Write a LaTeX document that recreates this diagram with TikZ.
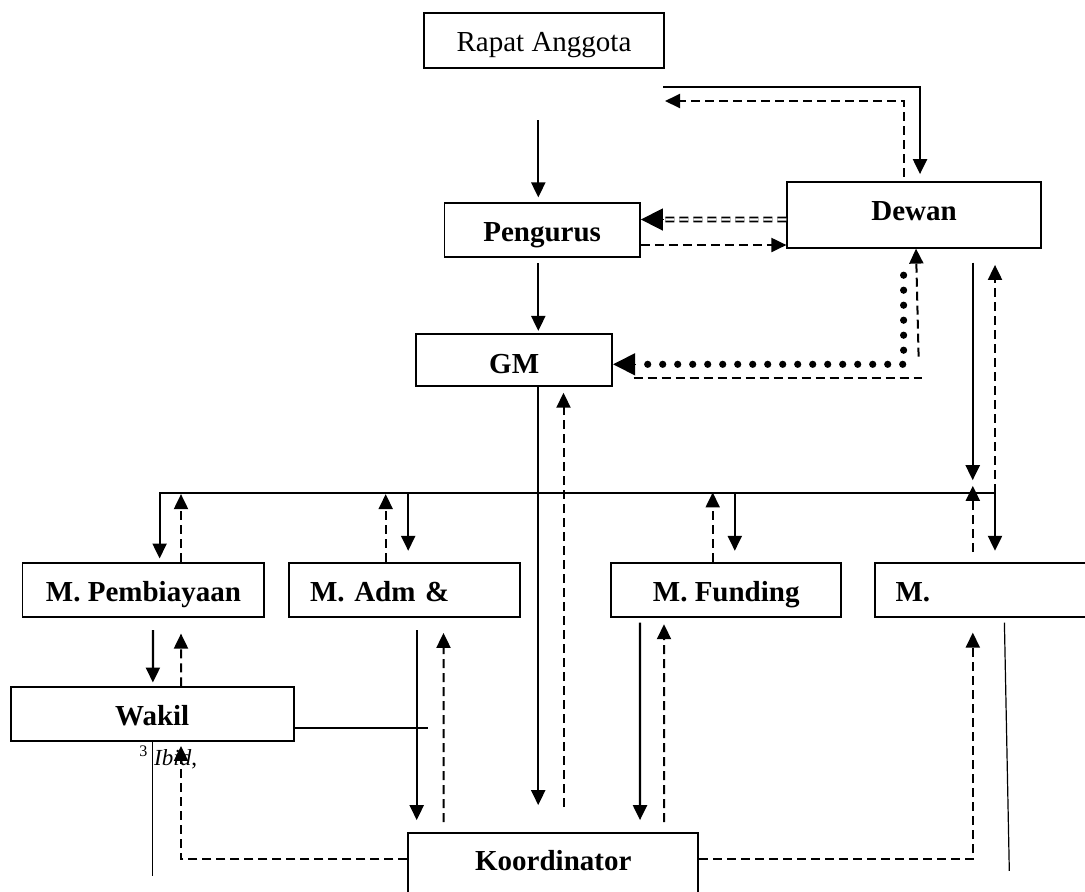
\documentclass[tikz,border=0pt]{standalone}
\usepackage{fontspec}
\setmainfont{Liberation Serif}
\usetikzlibrary{arrows.meta,calc}

\begin{document}
\begin{tikzpicture}[x=0.5pt,y=-0.5pt,
    wtip/.tip={Triangle[length=7.5pt,width=7pt]},
    btip/.tip={Triangle[length=11pt,width=11pt]},
    box/.style={draw,line width=0.9pt,inner sep=0pt,text height=12pt,text depth=1pt,
      font=\fontsize{14.5}{17}\selectfont\bfseries},
    line/.style={line width=1.1pt},
    arr/.style={line width=1.1pt,-wtip},
    dsh/.style={line width=1pt,dash pattern=on 4.5pt off 2.5pt},
    dsharr/.style={dsh,-wtip},
    dots/.style={line width=3.6pt,line cap=round,dash pattern=on 0pt off 7.5pt},
    bigarr/.style={line width=0.8pt,-btip},
    hair/.style={line width=0.6pt}]
  \path[use as bounding box,fill=white] (0,0) rectangle (1085,891);

  \node[box,font=\fontsize{14.5}{17}\selectfont,minimum width=120pt,minimum height=27.5pt] (rapat) at (544,40.5) {Rapat Anggota};
  \node[box,text depth=6.7pt,minimum width=126.7pt,minimum height=33pt] (dewan) at (914,214.7) {Dewan};
  \node[box,minimum width=97.8pt,minimum height=27pt] (pengurus) at (542.2,230.3) {Pengurus};
  \node[box,text height=13pt,text depth=0pt,minimum width=98pt,minimum height=25.9pt] (gm) at (514.2,360.2) {GM};
  \node[box,minimum width=120.9pt,minimum height=27.2pt] (mpemb) at (143.4,590) {M. Pembiayaan};
  \node[box,text width=94.3pt,inner xsep=10.7pt,align=left,minimum height=27.2pt] (madm) at (404.3,590) {M. Adm \&};
  \node[box,minimum width=115pt,minimum height=27.2pt] (mfund) at (726.2,590) {M. Funding};
  \node[box,text width=104.5pt,inner xsep=10.25pt,align=left,minimum height=27.2pt] (mlast) at (1000,590) {M.};
  \node[box,minimum width=141.5pt,minimum height=27pt] (wakil) at (152.2,714.2) {Wakil};
  \node[box,text depth=5.2pt,minimum width=145pt,minimum height=31.15pt] (koord) at (553.3,863.85) {Koordinator};
  \node[anchor=base west,inner sep=0pt,font=\fontsize{11.5}{13}\selectfont] (ibid) at (139,765) {\textsuperscript{3} \textit{Ibid},};

  \coordinate (busL) at (159.6,492.7);
  \coordinate (busR) at (995,492.7);
  \coordinate (topL) at (663,86.7);
  \coordinate (backL) at (665,101);
  \coordinate (rapOut) at (538.3,120);

  \draw[arr] (topL) -| ($(dewan.north)+(6,-6.7)$);
  \draw[dsharr] ($(dewan.north)+(-10,-4)$) |- (backL);
  \draw[arr] (rapOut) -- ($(pengurus.north)+(-3.9,-5)$);

  \draw[dsh,line width=0.8pt,double,double distance=1.2pt] ($(dewan.west)+(0,4.8)$) -- ($(pengurus.east)+(22,-10.8)$);
  \draw[bigarr] ($(pengurus.east)+(22,-10.8)$) -- ($(pengurus.east)+(0,-10.8)$);
  \coordinate (pgOut) at ($(pengurus.east)+(0,14.7)$);
  \draw[dsharr] (pgOut) -- (pgOut -| dewan.west);

  \draw[arr] ($(pengurus.south)+(-3.9,5)$) -- ($(gm.north)+(24.1,-2.5)$);

  \coordinate (dotTop) at ($(dewan.south)+(-10.4,26.6)$);
  \coordinate (gmIn) at ($(gm.east)+(0,4.1)$);
  \draw[dots] (dotTop) |- ($(gmIn)+(28,0)$);
  \draw[bigarr] ($(gmIn)+(22,0)$) -- (gmIn);
  \coordinate (gmOut) at ($(gm.east)+(20.5,17.5)$);
  \draw[dsh] (gmOut) -- ++(288,0);
  \draw[dsharr] ($(gmOut)+(285,-21)$) -- ($(dewan.south)+(2,0)$);

  \draw[arr] ($(gm.south)+(24,0)$) -- ($(koord.north)+(-15.1,-26.7)$);
  \draw[dsharr] ($(koord.north)+(10.2,-24.7)$) -- ($(gm.south)+(49.3,5.7)$);

  \draw[arr,wtip-wtip] ($(mpemb.north)+(16.2,-3.4)$) |- (busR) -- ($(mlast.north)+(-5,-11.1)$);
  \coordinate (admIn) at ($(madm.north)+(3.9,-11.1)$);
  \draw[arr] (admIn |- busL) -- (admIn);
  \coordinate (fundIn) at ($(mfund.north)+(8.6,-11.1)$);
  \draw[arr] (fundIn |- busL) -- (fundIn);
  \draw[dsharr] ($(mpemb.north)+(37.6,0)$) -- ++(0,-67.8);
  \draw[dsharr] ($(madm.north)+(-18.6,0)$) -- ++(0,-67.8);
  \draw[dsharr] ($(mfund.north)+(-13.5,0)$) -- ++(0,-69.5);
  \draw[dsharr] ($(mlast.north)+(-27.2,-9.8)$) -- ++(0,-66.3);

  \draw[arr] ($(dewan.south)+(58.7,14)$) -- ++(0,217.6);
  \draw[dsharr] (busR) -- ($(dewan.south)+(81,16.3)$);

  \draw[arr] ($(mpemb.south)+(9.5,12.1)$) -- ($(wakil.north)+(0.7,-3.8)$);
  \draw[dsharr] ($(wakil.north)+(28.8,0)$) -- ($(mpemb.south)+(37.6,15.5)$);
  \draw[arr] ($(madm.south)+(12.4,12.1)$) -- ($(koord.north)+(-136.6,-11.7)$);
  \draw[dsharr] ($(koord.north)+(-109.8,-9.7)$) -- ($(madm.south)+(39.2,14.8)$);
  \draw[arr] ($(mfund.south)+(-86.2,4.5)$) -- ($(koord.north)+(86.7,-11.7)$);
  \draw[dsharr] ($(koord.north)+(110.7,-9.7)$) -- ($(mfund.south)+(-62.2,6.1)$);

  \coordinate (koL) at ($(koord.west)+(0,-4.4)$);
  \coordinate (koR) at ($(koord.east)+(0,-4.4)$);
  \draw[dsharr] (koL) -| ($(wakil.south)+(28.8,3.8)$);
  \draw[dsharr] (koR) -| ($(mlast.south)+(-27.2,14.5)$);

  \draw[line] ($(wakil.east)+(0,14.1)$) -- ++(133.2,0);
  \draw[hair] (wakil.south) -- ++(0,134);
  \draw[hair] ($(mlast.south)+(4.4,4.5)$) -- ++(4.9,248.3);
\end{tikzpicture}
\end{document}
